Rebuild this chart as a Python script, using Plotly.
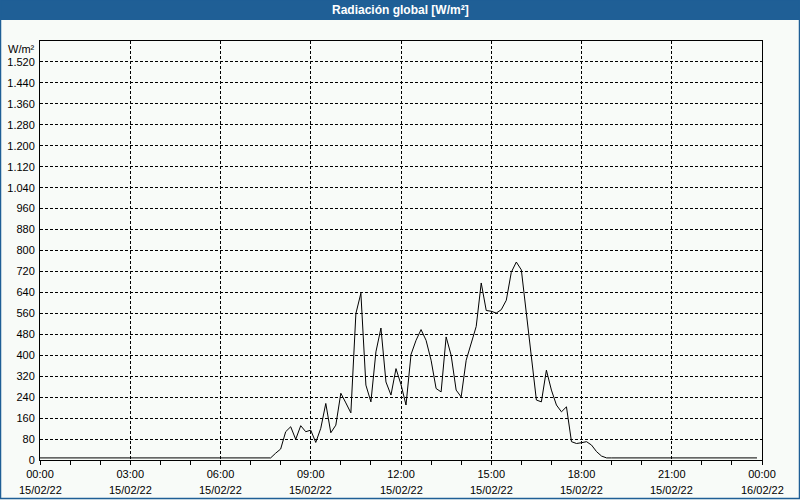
import plotly.graph_objects as go
import pandas as pd

# 10-minute samples from 15/02/22 00:00 to 23:50 (W/m²)
night_am = [8, 8, 8, 8, 8, 8, 8, 8, 8, 8, 8, 8, 8, 8, 8, 8, 8, 8, 8, 8, 8, 8, 8, 8,
            8, 8, 8, 8, 8, 8, 8, 8, 8, 8, 8, 8, 8, 8, 8, 8, 8, 8, 8, 8, 8, 8, 8]  # 00:00-07:40
day = [26, 42, 108, 127, 79, 131, 108, 114, 67, 121, 216, 104, 133,          # 07:50-09:50
       255, 218, 180, 559, 637, 286, 222, 413, 504, 298, 248, 349,          # 10:00-11:50
       288, 210, 403, 457, 498, 457, 381, 273, 260, 470, 400, 267,          # 12:00-13:50
       241, 381, 445, 510, 676, 571, 568, 561, 574, 610, 717, 756,          # 14:00-15:50
       726, 552, 394, 229, 222, 343, 267, 210, 184, 203, 70, 63,            # 16:00-17:50
       66, 70, 57, 32, 15]                                                  # 18:00-18:40
night_pm = [8, 8, 8, 8, 8, 8, 8, 8, 8, 8, 8, 8, 8, 8, 8, 8, 8, 8, 8, 8, 8, 8, 8, 8,
            8, 8, 8, 8, 8, 8, 8]  # 18:50-23:50
values = night_am + day + night_pm
times = pd.date_range("2022-02-15 00:00", periods=len(values), freq="10min")

x_tick_vals = ["2022-02-15 00:00", "2022-02-15 03:00", "2022-02-15 06:00", "2022-02-15 09:00",
               "2022-02-15 12:00", "2022-02-15 15:00", "2022-02-15 18:00", "2022-02-15 21:00",
               "2022-02-16 00:00"]
x_tick_times = ["00:00", "03:00", "06:00", "09:00", "12:00", "15:00", "18:00", "21:00", "00:00"]
x_tick_dates = ["15/02/22", "15/02/22", "15/02/22", "15/02/22", "15/02/22", "15/02/22",
                "15/02/22", "15/02/22", "16/02/22"]
y_tick_vals = [0, 80, 160, 240, 320, 400, 480, 560, 640, 720, 800, 880, 960, 1040,
               1120, 1200, 1280, 1360, 1440, 1520]
y_tick_text = ["0", "80", "160", "240", "320", "400", "480", "560", "640", "720", "800",
               "880", "960", "1.040", "1.120", "1.200", "1.280", "1.360", "1.440", "1.520"]

BG = "#F8FBF8"
BLUE = "#1F5F96"
FONT = "Liberation Sans"

fig = go.Figure()
fig.add_trace(go.Scatter(x=times, y=values, mode="lines",
                         line=dict(color="black", width=1), hoverinfo="skip"))

W, H = 800, 500
L, R, T, B = 40, 38, 41, 40
pw, ph = W - L - R, H - T - B

annotations = [
    dict(text="<b>Radiación global [W/m²]</b>", xref="paper", yref="paper",
         x=0.5 + (W / 2 - L - pw / 2) / pw, y=1 + (T - 10) / ph,
         xanchor="center", yanchor="middle", showarrow=False,
         font=dict(family=FONT, size=12, color="white")),
    dict(text="W/m²", xref="paper", yref="paper", x=0, y=1,
         xanchor="right", yanchor="top", xshift=-3, yshift=0, showarrow=False,
         font=dict(family=FONT, size=11, color="black")),
]
for tv, d in zip(x_tick_vals, x_tick_dates):
    annotations.append(dict(text=d, xref="x", yref="paper", x=tv, y=0,
                            xanchor="center", yanchor="middle", yshift=-30,
                            showarrow=False, font=dict(family=FONT, size=11, color="black")))

fig.update_layout(
    width=W, height=H,
    margin=dict(l=L, r=R, t=T, b=B),
    paper_bgcolor=BG, plot_bgcolor=BG,
    showlegend=False,
    font=dict(family=FONT, size=11, color="black"),
    xaxis=dict(
        range=["2022-02-15 00:00", "2022-02-16 00:00"],
        automargin=False,
        tickmode="array", tickvals=x_tick_vals, ticktext=x_tick_times,
        ticks="outside", ticklen=4, tickcolor="black",
        showgrid=True, gridcolor="black", griddash="3px,2px", gridwidth=1,
        showline=True, linecolor="black", linewidth=1, mirror=True,
        minor=dict(tickmode="linear", tick0="2022-02-15 00:00", dtick=3600000,
                   ticks="outside", ticklen=4, tickcolor="black", showgrid=False),
        fixedrange=True,
    ),
    yaxis=dict(
        range=[0, 1600],
        automargin=False,
        tickmode="array", tickvals=y_tick_vals, ticktext=y_tick_text,
        ticks="outside", ticklen=2, tickcolor="rgba(0,0,0,0)",
        showgrid=True, gridcolor="black", griddash="3px,2px", gridwidth=1,
        zeroline=False,
        showline=True, linecolor="black", linewidth=1, mirror=True,
        fixedrange=True,
    ),
    shapes=[
        dict(type="rect", xref="paper", yref="paper",
             x0=-L / pw, x1=1 + R / pw, y0=1 + (T - 20) / ph, y1=1 + T / ph,
             fillcolor=BLUE, line=dict(width=0), layer="above"),
        dict(type="rect", xref="paper", yref="paper",
             x0=-(L - 0.5) / pw, x1=1 + (R - 0.5) / pw, y0=-(B - 1.5) / ph, y1=1 + T / ph,
             fillcolor="rgba(0,0,0,0)", line=dict(color=BLUE, width=1.5), layer="above"),
    ],
    annotations=annotations,
)

fig.write_html("out.html")
